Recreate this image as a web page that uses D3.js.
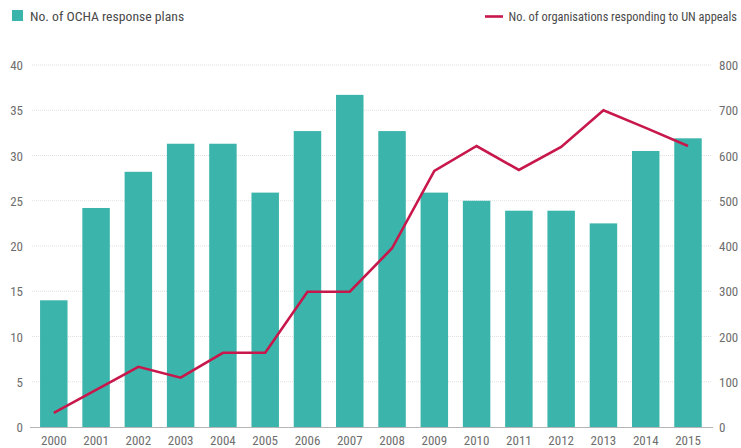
<!DOCTYPE html>
<html>
<head>
<meta charset="utf-8">
<script src="https://cdn.jsdelivr.net/npm/d3@7"></script>
<style>
  html, body { margin: 0; padding: 0; background: #fff; }
  svg { display: block; }
  text { font-family: "Liberation Sans Narrow", "Arial Narrow", "Roboto Condensed", sans-serif; }
</style>
</head>
<body>
<svg id="chart" width="741" height="448"></svg>
<script>
const years = ["2000","2001","2002","2003","2004","2005","2006","2007","2008","2009","2010","2011","2012","2013","2014","2015"];
const responsePlans = [14, 24.2, 28.2, 31.3, 31.3, 25.9, 32.7, 36.7, 32.7, 25.9, 25.0, 23.9, 23.9, 22.5, 30.5, 31.9];
const organisations = [31, 82, 133, 109, 164, 164, 299, 299, 395, 566, 621, 568, 619, 700, 661, 621];
const leftTicks = [0, 5, 10, 15, 20, 25, 30, 35, 40];
const rightTicks = [0, 100, 200, 300, 400, 500, 600, 700, 800];
const barLabel = "No. of OCHA response plans";
const lineLabel = "No. of organisations responding to UN appeals";

const svg = d3.select("#chart");
const teal = "#3bb5ac";
const crimson = "#c7174b";
const tickColor = "#6e6e6e";

const x = d3.scaleBand().domain(years).range([32.66, 709.14]).paddingInner(0.35).paddingOuter(0.175);
const yL = d3.scaleLinear().domain([0, 40]).range([427, 65]);
const yR = d3.scaleLinear().domain([0, 800]).range([427, 65]);

// gridlines
svg.append("g").selectAll("line").data(leftTicks.filter(d => d > 0)).join("line")
  .attr("x1", 32).attr("x2", 712)
  .attr("y1", d => yL(d)).attr("y2", d => yL(d))
  .attr("stroke", "#e0e0e0").attr("stroke-width", 1).attr("stroke-dasharray", "1,1");

// bars
svg.append("g").selectAll("rect").data(years).join("rect")
  .attr("x", d => x(d))
  .attr("width", x.bandwidth())
  .attr("y", (d, i) => yL(responsePlans[i]))
  .attr("height", (d, i) => yL(0) - yL(responsePlans[i]))
  .attr("fill", teal);

// baseline
svg.append("line").attr("x1", 30).attr("x2", 713).attr("y1", yL(0) + 0.5).attr("y2", yL(0) + 0.5)
  .attr("stroke", "#b5b5b5").attr("stroke-width", 1);

// line
const line = d3.line()
  .x((d, i) => x(years[i]) + x.bandwidth() / 2)
  .y(d => yR(d));
svg.append("path").datum(organisations)
  .attr("d", line)
  .attr("fill", "none")
  .attr("stroke", crimson)
  .attr("stroke-width", 2.6)
  .attr("stroke-linejoin", "miter");

// left axis
const leftAxis = d3.axisLeft(yL).tickValues(leftTicks).tickSize(0).tickPadding(0);
const gL = svg.append("g").attr("transform", "translate(23,0)").call(leftAxis);
gL.select(".domain").remove();
gL.selectAll("text").attr("fill", tickColor).style("font-size", "13px").attr("dy", "0.35em");

// right axis
const rightAxis = d3.axisRight(yR).tickValues(rightTicks).tickSize(0).tickPadding(0);
const gR = svg.append("g").attr("transform", "translate(719,0)").call(rightAxis);
gR.select(".domain").remove();
gR.selectAll("text").attr("fill", tickColor).style("font-size", "13px").attr("dy", "0.35em");

// bottom axis
const bottomAxis = d3.axisBottom(x).tickSize(0).tickPadding(0);
const gB = svg.append("g").attr("transform", "translate(0,436)").call(bottomAxis);
gB.select(".domain").remove();
gB.selectAll("text").attr("fill", tickColor).style("font-size", "13px").attr("dy", "0.71em");

// legends
svg.append("rect").attr("x", 12).attr("y", 10).attr("width", 11).attr("height", 11).attr("fill", teal);
svg.append("text").attr("x", 30).attr("y", 20.5).text(barLabel)
  .attr("fill", "#4a4a4a").style("font-size", "13.7px");

svg.append("line").attr("x1", 485).attr("x2", 503).attr("y1", 16.5).attr("y2", 16.5)
  .attr("stroke", crimson).attr("stroke-width", 2.6);
svg.append("text").attr("x", 737).attr("y", 20.5).attr("text-anchor", "end").text(lineLabel)
  .attr("fill", "#4a4a4a").style("font-size", "12.4px");
</script>
</body>
</html>
